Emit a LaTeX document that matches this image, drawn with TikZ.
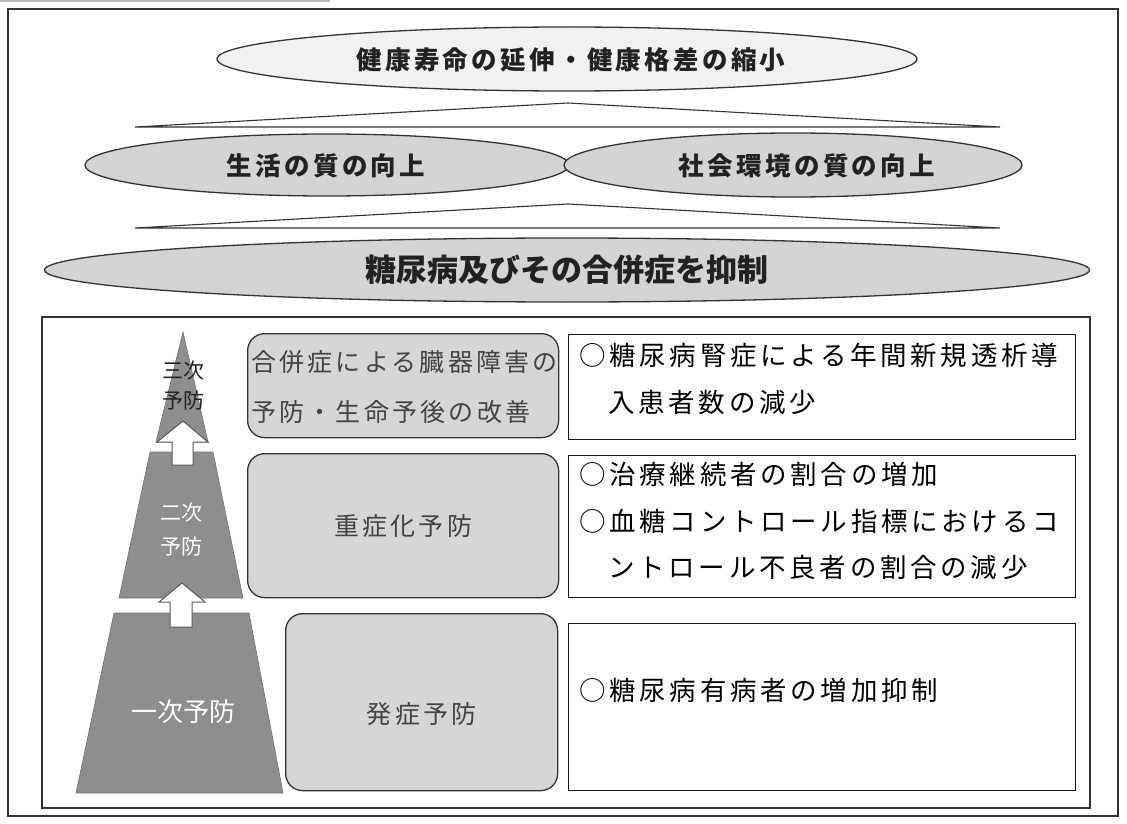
\documentclass[tikz,border=0pt]{standalone}
\usepackage{fontspec}
\setmainfont{Noto Sans CJK JP}
\newfontfamily\jpA[LetterSpace=13]{Noto Sans CJK JP}
\newfontfamily\jpB[LetterSpace=14]{Noto Sans CJK JP}
\usetikzlibrary{shapes.geometric}
\definecolor{txt}{HTML}{222222}
\definecolor{edge}{HTML}{333333}
\definecolor{ellA}{HTML}{F1F1F1}
\definecolor{ellB}{HTML}{D3D3D3}
\definecolor{boxgray}{HTML}{D5D5D5}
\definecolor{pyr}{HTML}{8E8E8E}
\begin{document}
\begin{tikzpicture}[x=1pt,y=-1pt,
  ell/.style={ellipse, draw=edge, line width=1.3pt, inner sep=0pt, text=txt},
  wedge/.style={draw=edge, line width=1.1pt},
  rbox/.style={draw=edge, fill=boxgray, line width=1.3pt, rounded corners=17pt, inner sep=0pt, anchor=north west},
  wbox/.style={draw=black!90, fill=white, line width=1.4pt, inner sep=0pt, anchor=north west},
  frame/.style={draw=edge, line width=1.3pt},
  pyrpart/.style={fill=pyr, draw=pyr!80!black, line width=0.6pt},
  uparrow/.style={fill=white, draw=gray!70!black, line width=1pt},
  ttext/.style={font=\jpA\bfseries\fontsize{25.5pt}{30pt}\selectfont, text=txt, inner sep=0pt},
  btext/.style={font=\jpA\fontsize{25pt}{50pt}\selectfont, text=txt!85!white, align=left, inner sep=0pt},
  rtext/.style={font=\jpB\fontsize{26.5pt}{46.5pt}\selectfont, text=black, align=left, inner sep=0pt, anchor=north west}
]
\useasboundingbox (0,0) rectangle (1127,824);
% scan artefact at the top edge
\draw[gray!55, line width=3pt] (0,1) -- (330,1);
% outer frame
\draw[frame] (8,9) rectangle (1118,816);

% top ellipse
\node[ell, fill=ellA, minimum width=700pt, minimum height=64pt] (goal) at (567,59) {};
\node[ttext] (goalt) at (571,60) {健康寿命の延伸・健康格差の縮小};

% wedge 1
\coordinate (w1a) at (135,127);
\coordinate (w1t) at (568,103);
\coordinate (w1b) at (1000,127);
\draw[wedge] (w1a) -- (w1t) -- (w1b) -- cycle;

% second row
\node[ell, fill=ellB, minimum width=484pt, minimum height=62pt] (life) at (327,165) {};
\node[ttext] (lifet) at (326,166) {生活の質の向上};
\node[ell, fill=ellB, minimum width=458pt, minimum height=64pt] (soc) at (793,165) {};
\node[ttext] (soct) at (807,166) {社会環境の質の向上};

% wedge 2
\coordinate (w2a) at (135,228);
\coordinate (w2t) at (568,204);
\coordinate (w2b) at (1000,228);
\draw[wedge] (w2a) -- (w2t) -- (w2b) -- cycle;

% diabetes ellipse
\node[ell, fill=ellB, minimum width=1045pt, minimum height=64pt, font=\bfseries\fontsize{31pt}{34pt}\selectfont] (dm) at (567,270) {糖尿病及びその合併症を抑制};

% lower panel
\draw[frame] (42,317) rectangle (1090,808);

% pyramid
\fill[pyrpart] (183,332) -- (208,442) -- (156,442) -- cycle;
\fill[pyrpart] (150,452) -- (213,452) -- (243,598) -- (119,598) -- cycle;
\fill[pyrpart] (114,613) -- (249,613) -- (283,793) -- (76,793) -- cycle;
\draw[uparrow] (183,421) -- (208,442) -- (193,442) -- (193,465) -- (172,465) -- (172,442) -- (157,442) -- cycle;
\draw[uparrow] (182,583) -- (205,602) -- (192,602) -- (192,627) -- (170,627) -- (170,602) -- (159,602) -- cycle;
\node[font=\fontsize{21pt}{30pt}\selectfont, text=txt, align=center, inner sep=0pt] (p3) at (183,386) {三次\\予防};
\node[font=\fontsize{21pt}{34pt}\selectfont, text=white, align=center, inner sep=0pt] (p2) at (181,530) {二次\\予防};
\node[font=\fontsize{26pt}{30pt}\selectfont, text=white, inner sep=0pt] (p1) at (183,712) {一次予防};

% rounded boxes
\node[rbox, minimum width=311pt, minimum height=104pt] (A) at (247,333) {};
\node[btext, anchor=west] (At) at (251,387) {合併症による臓器障害の\\予防・生命予後の改善};
\node[rbox, minimum width=311pt, minimum height=144pt] (B) at (247,453) {};
\node[btext] (Bt) at (B.center) {重症化予防};
\node[rbox, minimum width=272pt, minimum height=177pt] (C) at (285,613) {};
\node[btext] (Ct) at ([yshift=-12pt]C.center) {発症予防};

% right boxes
\node[wbox, minimum width=507pt, minimum height=105pt] (R1) at (568,334) {};
\node[rtext] (R1t) at (579,343) {○糖尿病腎症による年間新規透析導\\\hspace{1.1em}入患者数の減少};
\node[wbox, minimum width=507pt, minimum height=142pt] (R2) at (568,455) {};
\node[rtext] (R2t) at (579,462) {○治療継続者の割合の増加\\○血糖コントロール指標におけるコ\\\hspace{1.1em}ントロール不良者の割合の減少};
\node[wbox, minimum width=507pt, minimum height=167pt] (R3) at (568,623) {};
\node[rtext, anchor=west] (R3t) at (579,690) {○糖尿病有病者の増加抑制};
\end{tikzpicture}
\end{document}
